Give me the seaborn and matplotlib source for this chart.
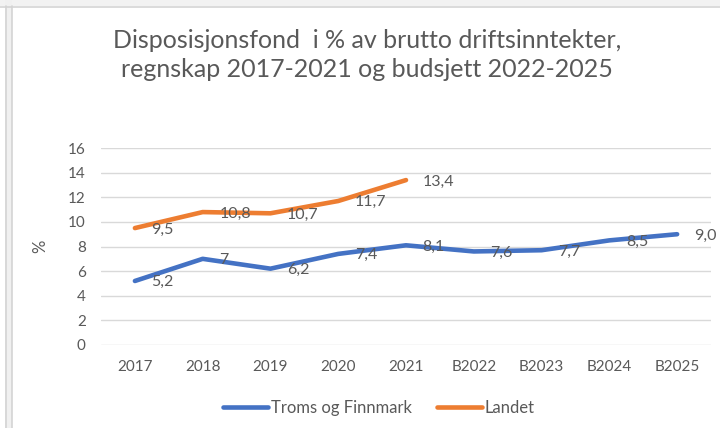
import pandas as pd
import seaborn as sns
import matplotlib.pyplot as plt
from matplotlib.patches import Rectangle
from matplotlib.lines import Line2D

# data
years = ['2017', '2018', '2019', '2020', '2021', 'B2022', 'B2023', 'B2024', 'B2025']
troms = [5.2, 7.0, 6.2, 7.4, 8.1, 7.6, 7.7, 8.5, 9.0]
troms_labels = ['5,2', '7', '6,2', '7,4', '8,1', '7,6', '7,7', '8,5', '9,0']
landet = [9.5, 10.8, 10.7, 11.7, 13.4, None, None, None, None]
landet_labels = ['9,5', '10,8', '10,7', '11,7', '13,4']

series_names = ['Troms og Finnmark', 'Landet']
colors = ['#4472C4', '#ED7D31']
grey = '#595959'

df = pd.DataFrame({'år': years, series_names[0]: troms, series_names[1]: landet})
long = df.melt(id_vars='år', var_name='serie', value_name='verdi').dropna()

sns.set_style('white')
plt.rcParams['font.family'] = ['Lato', 'DejaVu Sans']

fig = plt.figure(figsize=(7.2, 4.28), dpi=100)
ax = fig.add_axes([0.1403, 0.194, 0.8472, 0.46])

sns.lineplot(data=long, x='år', y='verdi', hue='serie', palette=colors,
             hue_order=series_names, sort=False, linewidth=3.3, ax=ax,
             legend=False, solid_capstyle='round', solid_joinstyle='round')

# data labels to the right of each point
for i, lab in enumerate(troms_labels):
    ax.annotate(lab, (i, troms[i]), xytext=(12, -1), textcoords='offset points',
                ha='left', va='center', fontsize=11.5, color=grey)
for i, lab in enumerate(landet_labels):
    ax.annotate(lab, (i, landet[i]), xytext=(12, -1), textcoords='offset points',
                ha='left', va='center', fontsize=11.5, color=grey)

ax.set_xlim(-0.5, len(years) - 0.5)
ax.set_ylim(0, 16)
ax.set_yticks(range(0, 17, 2))
ax.grid(axis='y', color='#d9d9d9', linewidth=1)
ax.grid(axis='x', visible=False)
for s in ax.spines.values():
    s.set_visible(False)
ax.tick_params(axis='both', length=0, labelsize=11, labelcolor=grey)
ax.tick_params(axis='x', pad=11)
ax.tick_params(axis='y', pad=11)
ax.set_xlabel('')
ax.set_ylabel('%', fontsize=12, color=grey, labelpad=14)

fig.text(0.51, 1 - 55 / 428,
         'Disposisjonsfond  i % av brutto driftsinntekter,\nregnskap 2017-2021 og budsjett 2022-2025',
         ha='center', va='center', fontsize=18, color=grey, linespacing=1.3)

handles = [Line2D([], [], color=c, linewidth=3.3, solid_capstyle='round') for c in colors]
fig.legend(handles, series_names, loc='center', bbox_to_anchor=(0.526, 0.047),
           ncol=2, frameon=False, fontsize=12, labelcolor=grey,
           handlelength=2.7, handletextpad=0.15, columnspacing=1.5)

# screenshot frame around the chart
fig.add_artist(Rectangle((0, 1 - 6 / 428), 1, 6 / 428, transform=fig.transFigure,
                         facecolor='#f2f2f2', edgecolor='none'))
fig.add_artist(Line2D([0, 1], [1 - 6.5 / 428] * 2, transform=fig.transFigure,
                      color='#d4d4d4', linewidth=1.2))
fig.add_artist(Rectangle((5 / 720, 0), 7 / 720, 1, transform=fig.transFigure,
                         facecolor='#f0f0f0', edgecolor='none'))
fig.add_artist(Line2D([5.5 / 720] * 2, [0, 1 - 6 / 428], transform=fig.transFigure,
                      color='#d4d4d4', linewidth=1.2))
fig.add_artist(Line2D([12 / 720] * 2, [0, 1 - 6 / 428], transform=fig.transFigure,
                      color='#d4d4d4', linewidth=1.2))

fig.savefig('out.png', dpi=100)
